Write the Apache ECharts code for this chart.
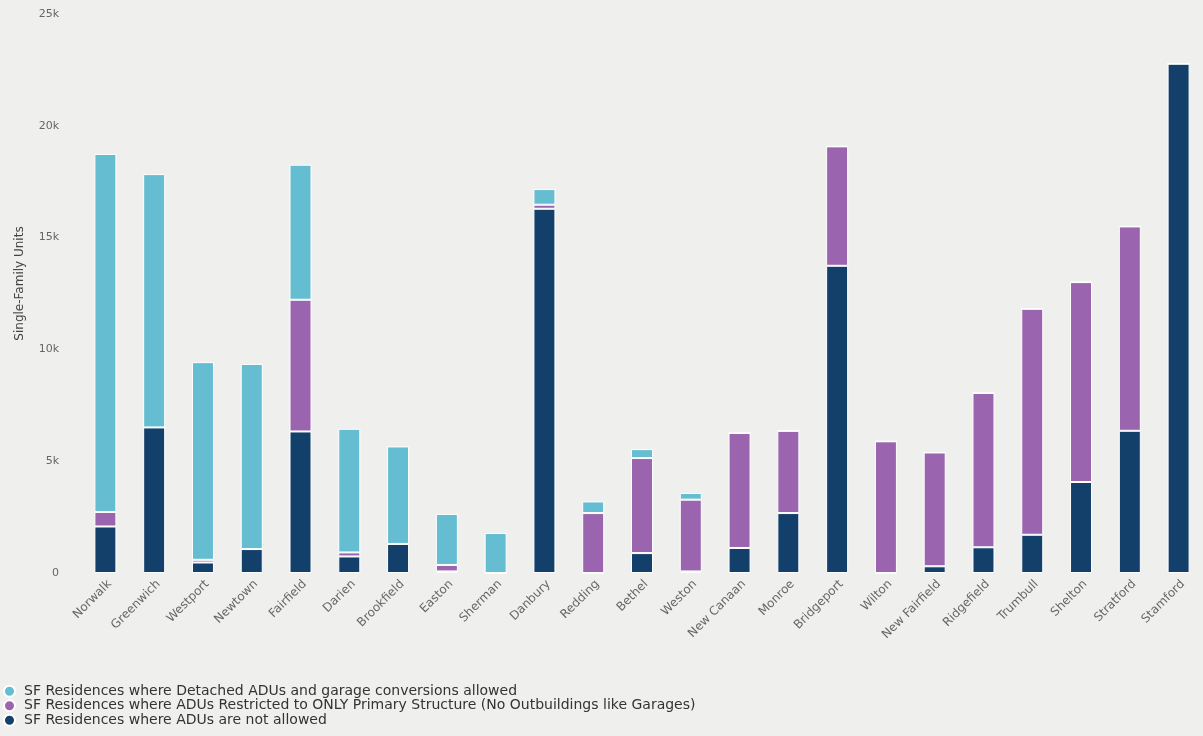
<!DOCTYPE html>
<html>
<head>
<meta charset="utf-8">
<script src="https://cdn.jsdelivr.net/npm/echarts@6/dist/echarts.min.js"></script>
<style>
html,body{margin:0;padding:0;background:#efefee;}
#chart{width:1203px;height:736px;}
</style>
</head>
<body>
<div id="chart"></div>
<script>
const towns = ['Norwalk','Greenwich','Westport','Newtown','Fairfield','Darien','Brookfield','Easton','Sherman','Danbury','Redding','Bethel','Weston','New Canaan','Monroe','Bridgeport','Wilton','New Fairfield','Ridgefield','Trumbull','Shelton','Stratford','Stamford'];
const notAllowed = [2080,6510,470,1070,6330,740,1300,70,0,16290,0,890,70,1120,2680,13740,0,300,1150,1710,4070,6360,22780];
const primaryOnly = [650,0,120,0,5890,180,0,290,0,180,2680,4250,3210,5140,3680,5340,5890,5090,6900,10110,8940,9140,0];
const detached = [16010,11330,8840,8280,6040,5530,4360,2280,1790,700,520,400,300,0,0,0,0,0,0,0,0,0,0];
const yTicks = [0,5000,10000,15000,20000,25000];
const seriesNames = [
  'SF Residences where Detached ADUs and garage conversions allowed',
  'SF Residences where ADUs Restricted to ONLY Primary Structure (No Outbuildings like Garages)',
  'SF Residences where ADUs are not allowed'
];
const colors = {detached:'#64bdd0', primary:'#9a64ae', none:'#133f6b'};

const chart = echarts.init(document.getElementById('chart'));
const font = '"DejaVu Sans", "Noto Sans", sans-serif';
function bar(name, data, color){
  return {name:name,type:'bar',stack:'a',data:data,barWidth:22,
    itemStyle:{color:color,borderColor:'#ffffff',borderWidth:1}};
}
chart.setOption({
  backgroundColor:'#efefee',
  animation:false,
  textStyle:{fontFamily:font},
  grid:{left:81,top:14,width:1133,bottom:163,containLabel:false},
  legend:{
    data:seriesNames,orient:'vertical',left:3,top:684,itemGap:0,padding:0,
    icon:'circle',itemWidth:11,itemHeight:11,
    textStyle:{fontSize:14,color:'#333',fontFamily:font,padding:[0,0,0,4],lineHeight:14.5}
  },
  xAxis:{type:'category',data:towns,
    axisLine:{show:false},axisTick:{show:false},
    axisLabel:{rotate:45,fontSize:12,color:'#666',margin:5,interval:0,fontFamily:font,verticalAlign:'top'}
  },
  yAxis:{type:'value',min:yTicks[0],max:yTicks[yTicks.length-1],interval:5000,
    name:'Single-Family Units',nameLocation:'middle',nameGap:55,
    nameTextStyle:{fontSize:12,color:'#444',fontFamily:font,padding:[0,0,0,20]},
    splitLine:{show:false},axisLine:{show:false},axisTick:{show:false},
    axisLabel:{fontSize:11,color:'#666',margin:22,fontFamily:font,
      formatter:function(v){return v===0?'0':(v/1000)+'k';}}
  },
  series:[
    bar(seriesNames[2], notAllowed, colors.none),
    bar(seriesNames[1], primaryOnly, colors.primary),
    bar(seriesNames[0], detached, colors.detached)
  ]
});
</script>
</body>
</html>
